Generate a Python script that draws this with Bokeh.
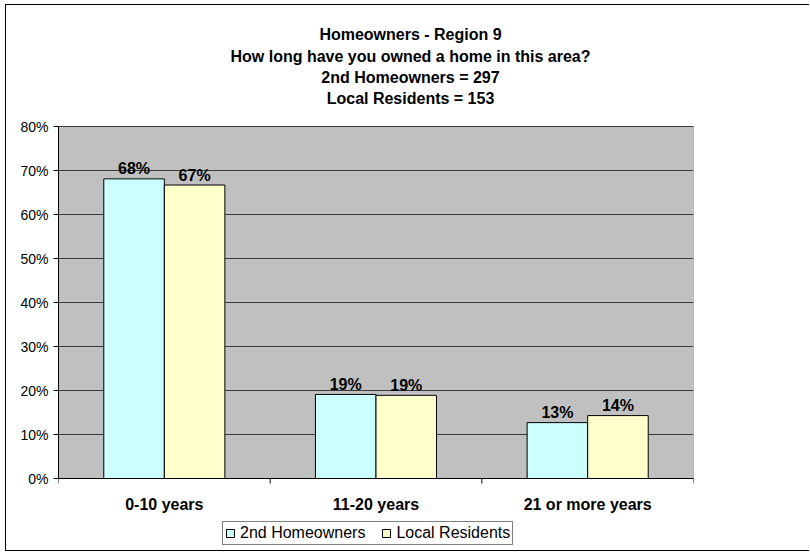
import numpy as np
from bokeh.plotting import figure
from bokeh.models import (ColumnDataSource, Range1d, FixedTicker, PrintfTickFormatter,
                          Legend, LegendItem, Label, Grid)
from bokeh.core.properties import value
from bokeh.embed import file_html
from bokeh.resources import INLINE

# ---- data ----
categories = ["0-10 years", "11-20 years", "21 or more years"]
series_names = ["2nd Homeowners", "Local Residents"]
second_homeowners = [68.1, 19.1, 12.7]
local_residents = [66.7, 18.9, 14.3]
y_ticks = [0, 10, 20, 30, 40, 50, 60, 70, 80]
title_lines = ["Homeowners - Region 9",
               "How long have you owned a home in this area?",
               "2nd Homeowners = 297",
               "Local Residents = 153"]

FONT = "Liberation Sans"
CYAN = "#CCFFFF"
YELLOW = "#FFFFCC"
PLOT_GRAY = "#C0C0C0"

# ---- layout (pixels) ----
W, H = 804, 547            # canvas (inside the chart border)
FRAME_L, FRAME_R = 52, 117  # frame = plot-area columns, full canvas height
FRAME_B = 2
FRAME_H = H - FRAME_B
ZERO_FROM_TOP = 473         # pixel row of the 0% line inside the frame
AREA_H = 352                # height of the grey plot area (0..80%)

px_per_unit = AREA_H / y_ticks[-1]
y_end = ZERO_FROM_TOP / px_per_unit
y_start = -(FRAME_H - ZERO_FROM_TOP) / px_per_unit

n = len(categories)
p = figure(width=W, height=H, output_backend="svg", toolbar_location=None,
           title=None, x_axis_location=None,
           x_range=Range1d(0, n), y_range=Range1d(y_start, y_end),
           min_border_left=FRAME_L, min_border_right=FRAME_R,
           min_border_top=0, min_border_bottom=FRAME_B)
p.styles = {"margin-left": "5px", "margin-top": "4px",
            "border-left": "1px solid black", "border-top": "1px solid black",
            "border-bottom": "1px solid black"}

p.background_fill_color = "white"
p.border_fill_color = "white"
p.outline_line_color = None

# grey plot area
p.quad(left=0, right=n, bottom=y_ticks[0], top=y_ticks[-1], fill_color=PLOT_GRAY,
       line_color="#808080", line_width=1, level="image")

# grid: only horizontal lines
for g in p.select(type=Grid):
    if g.dimension == 0:
        g.visible = False
        g.grid_line_color = None
p.ygrid.ticker = FixedTicker(ticks=y_ticks)
p.ygrid.grid_line_color = "#3a3a3a"
p.ygrid.grid_line_width = 1

# y axis
p.yaxis.ticker = FixedTicker(ticks=y_ticks)
p.yaxis.bounds = (y_ticks[0], y_ticks[-1])
p.yaxis.formatter = PrintfTickFormatter(format="%d%%")
p.yaxis.axis_line_color = "black"
p.yaxis.major_tick_line_color = "black"
p.yaxis.major_tick_in = 0
p.yaxis.major_tick_out = 5
p.yaxis.minor_tick_line_color = None
p.yaxis.major_label_text_font = FONT
p.yaxis.major_label_text_font_size = "14px"
p.yaxis.major_label_text_color = "black"
p.yaxis.major_label_standoff = 5

# category axis: baseline, boundary ticks, bold labels
centers = np.arange(n) + 0.5
bounds_x = np.arange(n + 1)
tick_len = 5 / px_per_unit
p.segment(x0=[0], y0=[0], x1=[n], y1=[0], line_color="black", line_width=1)
p.segment(x0=bounds_x, y0=np.zeros(n + 1), x1=bounds_x, y1=np.full(n + 1, -tick_len),
          line_color="black", line_width=1)
p.text(x=centers, y=np.zeros(n), text=categories, text_font=value(FONT),
       text_font_style="bold", text_font_size="16px", text_color="black",
       text_align="center", text_baseline="top", y_offset=17)

# bars
bw = 0.286
src = ColumnDataSource(dict(
    x1=centers - bw / 2, x2=centers + bw / 2,
    a=second_homeowners, b=local_residents,
    la=[f"{round(v)}%" for v in second_homeowners],
    lb=[f"{round(v)}%" for v in local_residents],
))
r1 = p.vbar(x="x1", top="a", width=bw, source=src, fill_color=CYAN,
            line_color="black", line_width=1)
r2 = p.vbar(x="x2", top="b", width=bw, source=src, fill_color=YELLOW,
            line_color="black", line_width=1)

for xc, yc, tc in (("x1", "a", "la"), ("x2", "b", "lb")):
    p.text(x=xc, y=yc, text=tc, source=src, text_font=value(FONT),
           text_font_style="bold", text_font_size="16px", text_color="black",
           text_align="center", text_baseline="alphabetic", y_offset=-10)

# title lines (screen units, measured from the frame's bottom-left)
for i, line in enumerate(title_lines):
    p.add_layout(Label(x=352, y=FRAME_H - 29.3 - 21.3 * i,
                       x_units="screen", y_units="screen",
                       text=line, text_font=FONT, text_font_style="bold",
                       text_font_size="16px", text_color="black",
                       text_align="center", text_baseline="alphabetic"))

# legend
legend = Legend(items=[LegendItem(label=series_names[0], renderers=[r1]),
                       LegendItem(label=series_names[1], renderers=[r2])],
                location=(164, 5), orientation="horizontal",
                label_text_font=FONT, label_text_font_size="16px",
                label_text_color="black",
                glyph_width=10, glyph_height=10, label_height=10,
                label_standoff=5, spacing=16, padding=2, margin=0,
                border_line_color="black", border_line_width=1,
                background_fill_color="white", background_fill_alpha=1)
p.add_layout(legend, "center")

open("out.html", "w").write(file_html(p, INLINE))
